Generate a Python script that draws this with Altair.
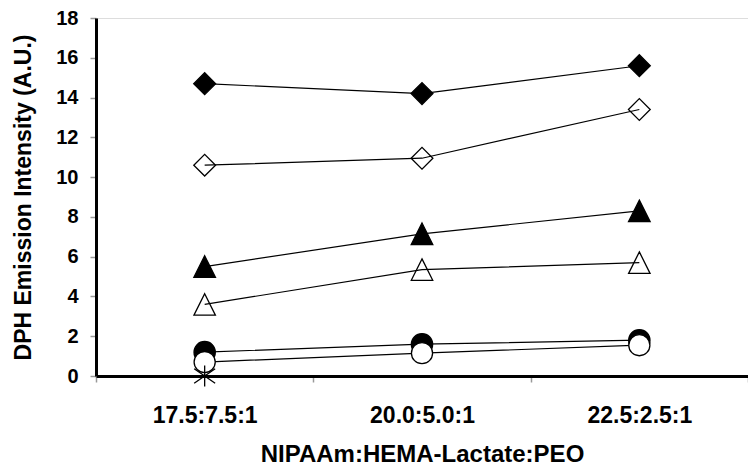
import altair as alt
import pandas as pd

categories = ["17.5:7.5:1", "20.0:5.0:1", "22.5:2.5:1"]
filled_diamond = [14.7, 14.2, 15.6]
open_diamond = [10.6, 10.95, 13.4]
filled_triangle = [5.5, 7.15, 8.3]
open_triangle = [3.6, 5.35, 5.7]
filled_circle = [1.2, 1.6, 1.8]
open_circle = [0.7, 1.15, 1.55]
asterisk_cat = ["17.5:7.5:1"]
asterisk = [0.0]

series = [
    ("filled_diamond", filled_diamond, categories),
    ("open_diamond", open_diamond, categories),
    ("filled_triangle", filled_triangle, categories),
    ("open_triangle", open_triangle, categories),
    ("filled_circle", filled_circle, categories),
    ("open_circle", open_circle, categories),
    ("asterisk", asterisk, asterisk_cat),
]
rows = []
order = 0
for name, vals, cats in series:
    for c, v in zip(cats, vals):
        rows.append({"series": name, "cat": c, "value": v, "ord": order})
        order += 1
df = pd.DataFrame(rows)

names = [s[0] for s in series]
shapes = [
    "diamond",
    "diamond",
    "M0,-1L1,1L-1,1Z",
    "M0,-1L1,1L-1,1Z",
    "circle",
    "circle",
    "M0,-1L0,1M-1,-0.7L1,0.7M-1,0.7L1,-0.7",
]
fills = ["black", "transparent", "black", "transparent", "black", "white", "transparent"]
sizes = [480, 440, 484, 484, 400, 400, 420]

FONT = "Liberation Sans"

x_enc = alt.X(
    "cat:N",
    sort=categories,
    scale=alt.Scale(type="band", paddingInner=0, paddingOuter=0),
    axis=alt.Axis(
        title="NIPAAm:HEMA-Lactate:PEO",
        labelAngle=0,
        tickBand="extent",
        tickSize=6,
        tickColor="#999999",
        tickWidth=1.5,
        domainColor="black",
        domainWidth=3,
        labelFont=FONT,
        labelFontSize=23,
        labelFontWeight="bold",
        labelColor="black",
        labelPadding=22,
        titleFont=FONT,
        titleFontSize=24,
        titleFontWeight="bold",
        titleColor="black",
        titlePadding=15,
    ),
)
y_enc = alt.Y(
    "value:Q",
    scale=alt.Scale(domain=[0, 18], nice=False),
    axis=alt.Axis(
        title="DPH Emission Intensity (A.U.)",
        values=list(range(0, 19, 2)),
        grid=False,
        tickSize=6,
        tickColor="#999999",
        tickWidth=1.5,
        domainColor="black",
        domainWidth=3,
        labelFont=FONT,
        labelFontSize=20,
        labelFontWeight="bold",
        labelColor="black",
        labelPadding=12,
        titleFont=FONT,
        titleFontSize=23,
        titleFontWeight="bold",
        titleColor="black",
        titlePadding=20,
    ),
)

base = alt.Chart(df)

lines = base.transform_filter(alt.datum.series != "asterisk").mark_line(
    color="black", strokeWidth=1.2
).encode(
    x=x_enc,
    y=y_enc,
    detail="series:N",
    order="ord:Q",
)

points = base.mark_point(stroke="black", strokeWidth=1.3, opacity=1, clip=False).encode(
    x=x_enc,
    y=y_enc,
    shape=alt.Shape("series:N", scale=alt.Scale(domain=names, range=shapes), legend=None),
    fill=alt.Fill("series:N", scale=alt.Scale(domain=names, range=fills), legend=None),
    size=alt.Size("series:N", scale=alt.Scale(domain=names, range=sizes), legend=None),
    order="ord:Q",
)

chart = (
    alt.layer(lines, points)
    .properties(
        width=652,
        height=358,
        autosize=alt.AutoSizeParams(type="none"),
        padding={"left": 88, "top": 10, "right": 0, "bottom": 89},
    )
    .configure_view(stroke="black", strokeWidth=2)
    .configure(background="white")
)

chart.save("out.html", embed_options={"renderer": "svg", "actions": False})
